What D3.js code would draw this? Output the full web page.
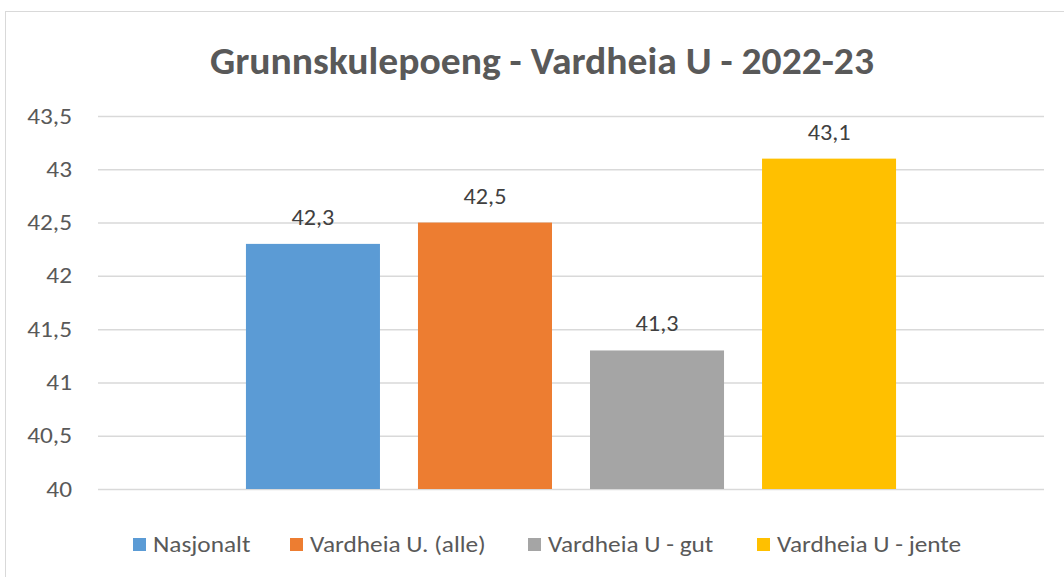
<!DOCTYPE html>
<html>
<head>
<meta charset="utf-8">
<script src="https://cdn.jsdelivr.net/npm/d3@7"></script>
<style>
  body { margin: 0; background: #fff; }
  svg { display: block; font-family: Carlito, Calibri, Lato, "Open Sans", sans-serif; }
</style>
</head>
<body>
<div id="chart"></div>
<script>
var series = ['Nasjonalt', 'Vardheia U. (alle)', 'Vardheia U - gut', 'Vardheia U - jente'];
var values = [42.3, 42.5, 41.3, 43.1];
var colors = ['#5B9BD5', '#ED7D31', '#A5A5A5', '#FFC000'];
var yTicks = [40, 40.5, 41, 41.5, 42, 42.5, 43, 43.5];
var title = 'Grunnskulepoeng - Vardheia U - 2022-23';

var width = 1064, height = 577;
var plotLeft = 98, plotRight = 1044, plotTop = 116, plotBottom = 489;
var fontStack = 'Carlito, Calibri, Lato, "Open Sans", sans-serif';
var stretch = 'scale(1.15,1)'; // the original picture is a little wide

var svg = d3.select('#chart').append('svg')
  .attr('width', width)
  .attr('height', height);

// chart area border
svg.append('rect')
  .attr('x', 5.5).attr('y', 11.5)
  .attr('width', 1080).attr('height', 600)
  .attr('fill', '#fff')
  .attr('stroke', '#d9d9d9');

svg.append('text')
  .attr('x', 542).attr('y', 74)
  .attr('text-anchor', 'middle')
  .attr('font-size', 38)
  .attr('font-weight', 'bold')
  .attr('fill', '#595959')
  .attr('textLength', 664)
  .attr('lengthAdjust', 'spacingAndGlyphs')
  .text(title);

var y = d3.scaleLinear().domain([40, 43.5]).range([plotBottom, plotTop]);

var x = d3.scaleBand().domain(series).range([plotLeft, plotRight]).paddingInner(0.221).paddingOuter(0.86);

var fmt = function(d) { return String(d).replace('.', ','); };

var yAxis = svg.append('g')
  .attr('transform', 'translate(' + plotLeft + ',0)')
  .call(d3.axisLeft(y).tickValues(yTicks).tickSize(-(plotRight - plotLeft)).tickPadding(26).tickFormat(fmt));
yAxis.select('.domain').remove();
yAxis.selectAll('line').attr('stroke', '#d9d9d9').attr('stroke-width', 1.5);
yAxis.selectAll('text')
  .attr('x', 0)
  .attr('transform', 'translate(-26,0) ' + stretch)
  .attr('fill', '#595959')
  .attr('font-size', 22)
  .attr('font-family', fontStack);

svg.selectAll('rect.bar')
  .data(values)
  .enter()
  .append('rect')
  .attr('class', 'bar')
  .attr('x', function(d, i) { return x(series[i]); })
  .attr('width', x.bandwidth())
  .attr('y', function(d) { return y(d); })
  .attr('height', function(d) { return plotBottom - y(d); })
  .attr('fill', function(d, i) { return colors[i]; });

svg.selectAll('text.lbl')
  .data(values)
  .enter()
  .append('text')
  .attr('class', 'lbl')
  .attr('transform', function(d, i) {
    return 'translate(' + (x(series[i]) + x.bandwidth() / 2) + ',' + (y(d) - 19) + ') scale(1.1,1)';
  })
  .attr('text-anchor', 'middle')
  .attr('font-size', 22)
  .attr('fill', '#404040')
  .text(fmt);

// legend
var legendX = [133, 290, 528, 757];
var leg = svg.selectAll('g.leg')
  .data(series)
  .enter()
  .append('g')
  .attr('class', 'leg')
  .attr('transform', function(d, i) { return 'translate(' + legendX[i] + ',538)'; });
leg.append('rect')
  .attr('width', 13).attr('height', 13)
  .attr('fill', function(d, i) { return colors[i]; });
leg.append('text')
  .attr('transform', 'translate(20,14) ' + stretch)
  .attr('font-size', 22)
  .attr('fill', '#595959')
  .text(function(d) { return d; });
</script>
</body>
</html>
